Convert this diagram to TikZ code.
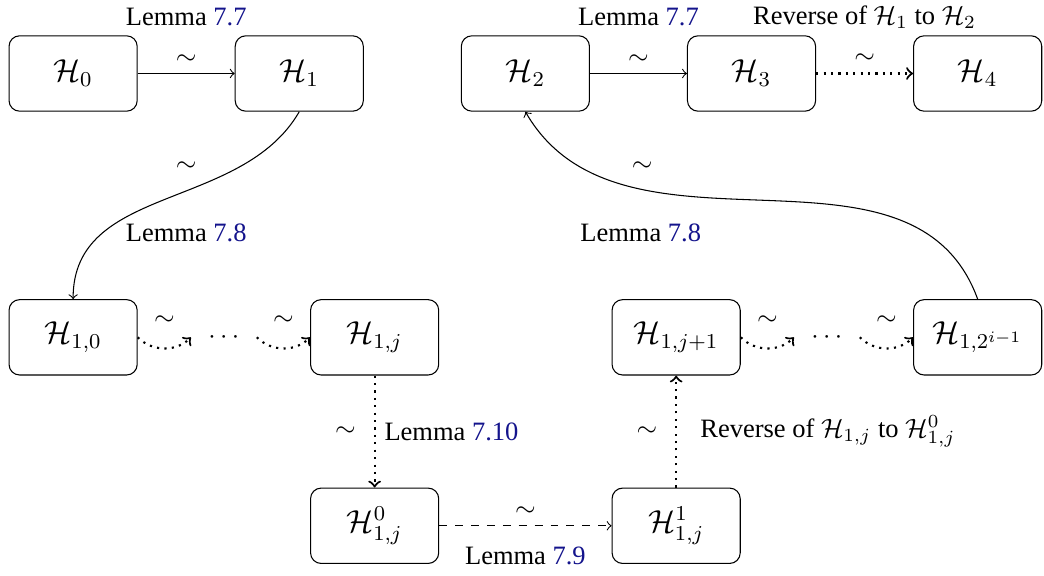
\documentclass[tikz,border=0pt]{standalone}
\usepackage[no-math]{fontspec}
\setmainfont{Liberation Serif}
\usetikzlibrary{positioning}
\definecolor{refblue}{RGB}{20,20,140}
\newcommand{\lem}[1]{Lemma \textcolor{refblue}{#1}}

\begin{document}
\begin{tikzpicture}[dotarrow/.style={dotted, thick}]

        \useasboundingbox (-0.97,0.975) rectangle (12.88,-6.664);

        \begin{scope}[every node/.style={draw, rounded corners, minimum width=1.7cm, minimum height=1cm, font=\large}]
          \node (1)  at (0,0)    {$\mathcal{H}_0$};
          \node (2)  at (3,0)    {$\mathcal{H}_1$};
          \node (3)  at (6,0)    {$\mathcal{H}_2$};
          \node (4)  at (9,0)    {$\mathcal{H}_3$};
          \node (5)  at (12,0)   {$\mathcal{H}_4$};
          \node (6)  at (0,-3.5) {$\mathcal{H}_{1,0}$};
          \node (7)  at (4,-3.5) {$\mathcal{H}_{1,j}$};
          \node (8)  at (8,-3.5) {$\mathcal{H}_{1,j+1}$};
          \node (9)  at (12,-3.5) {$\mathcal{H}_{1,2^{i-1}}$};
          \node (10) at (4,-6)   {$\mathcal{H}^0_{1,j}$};
          \node (11) at (8,-6)   {$\mathcal{H}^1_{1,j}$};
        \end{scope}

        \begin{scope}[every node/.style={minimum width=0.86cm, inner sep=0pt}]
          \node (d1) at (2,-3.5)  {$\cdots$};
          \node (d2) at (10,-3.5) {$\cdots$};
        \end{scope}

        \node (l1) at (1.5,0.75)    {\lem{7.7}};
        \node (l2) at (7.5,0.75)    {\lem{7.7}};
        \node (l3) at (10.5,0.75)   {Reverse of $\mathcal{H}_1$ to $\mathcal{H}_2$};
        \node (t1) at (1.5,-1.24)   {$\sim$};
        \node (l4) at (1.5,-2.12)   {\lem{7.8}};
        \node (t2) at (7.55,-1.24)  {$\sim$};
        \node (l5) at (7.53,-2.12)  {\lem{7.8}};

        \begin{scope}[every edge/.style={draw, ->}]
          \path (1) edge node[above] (s1) {$\sim$} (2);
          \path (3) edge node[above] (s2) {$\sim$} (4);
          \path (4) edge[dotarrow] node[above] (s3) {$\sim$} (5);
          \path (2.south) edge[out=-120, in=90] (6.north);
          \path (9.north) edge[out=110, in=-60] (3.south);

          \path (6.east) edge[dotarrow, bend right=45] node[above=0.17cm] (s4) {$\sim$} (d1.west);
          \path (d1.east) edge[dotarrow, bend right=45] node[above=0.17cm] (s5) {$\sim$} (7.west);
          \path (8.east) edge[dotarrow, bend right=45] node[above=0.17cm] (s6) {$\sim$} (d2.west);
          \path (d2.east) edge[dotarrow, bend right=45] node[above=0.17cm] (s7) {$\sim$} (9.west);

          \path (7) edge[dotarrow] node[left=0.12cm] (s8) {$\sim$} node[right] (l6) {\lem{7.10}} (10);
          \path (10) edge[dashed] node[above] (s9) {$\sim$} node[below=0.16cm] (l7) {\lem{7.9}} (11);
          \path (11) edge[dotarrow] node[left=0.12cm] (s10) {$\sim$}
            node[right=0.19cm] (l8) {Reverse of $\mathcal{H}_{1,j}$ to $\mathcal{H}^0_{1,j}$} (8);
        \end{scope}

\end{tikzpicture}
\end{document}
